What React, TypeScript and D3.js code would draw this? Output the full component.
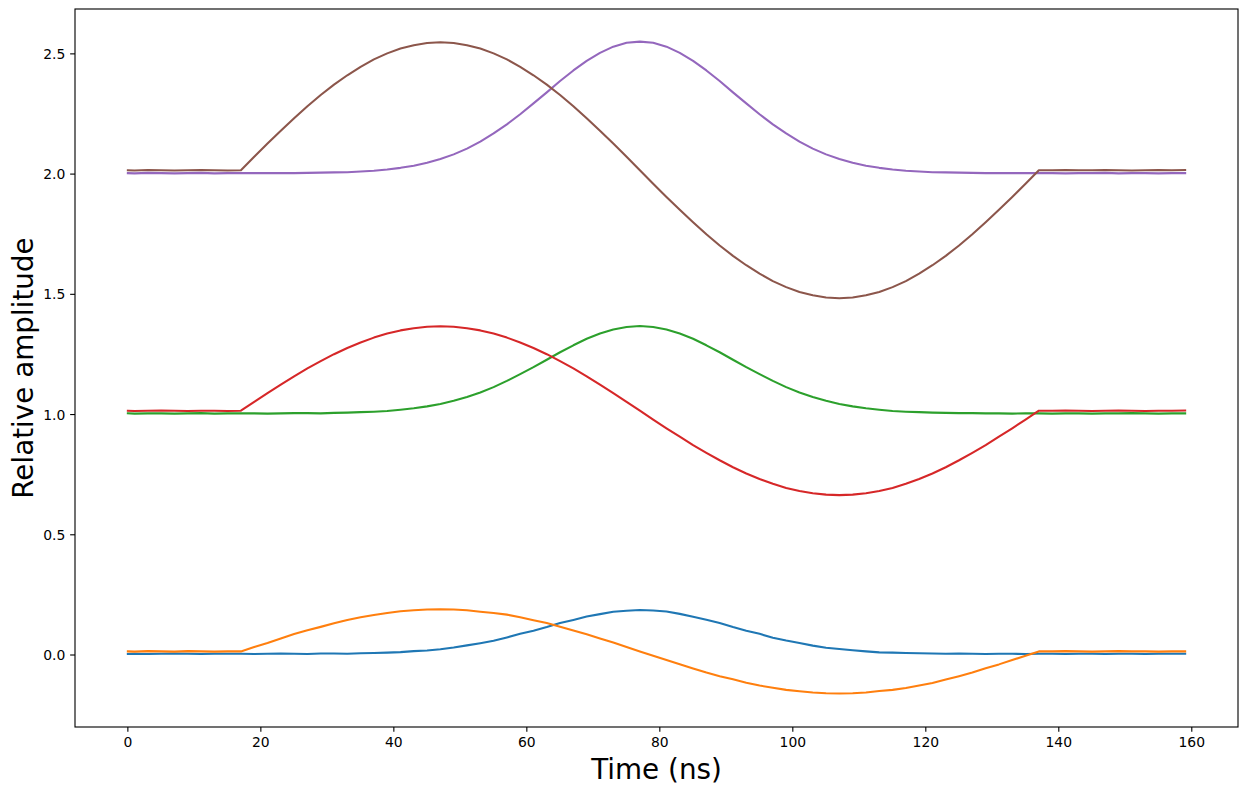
import React from "react";
import * as d3 from "d3";

const times = [0,1,3,5,7,9,11,13,15,17,19,21,23,25,27,29,31,33,35,37,39,41,43,45,47,49,51,53,55,57,59,61,63,65,67,69,71,73,75,77,79,81,83,85,87,89,91,93,95,97,99,101,103,105,107,109,111,113,115,117,119,121,123,125,127,129,131,133,135,137,139,141,143,145,147,149,151,153,155,157,159];

const blue = [0.004,0.005,0.004,0.005,0.006,0.005,0.004,0.005,0.005,
  0.005,0.004,0.005,0.006,0.005,0.004,0.006,0.006,0.005,0.007,0.008,0.010,0.012,0.016,0.019,0.024,0.031,0.040,0.049,0.059,0.073,0.088,0.101,0.116,0.133,0.146,0.160,0.170,0.180,0.184,0.187,
  0.185,0.181,0.171,0.159,0.147,0.133,0.116,0.101,0.088,0.072,0.060,0.050,0.039,0.030,0.025,0.020,0.015,0.011,0.010,0.008,0.007,0.006,0.005,0.006,0.005,0.004,0.005,0.005,0.004,0.005,
  0.005,0.004,0.005,0.005,0.004,0.005,0.005,0.004,0.005,0.005,0.005];

const orange = [0.015,0.014,0.016,0.015,0.014,0.016,0.015,0.014,0.015,
  0.015,0.033,0.050,0.069,0.087,0.103,0.117,0.132,0.146,0.157,0.166,0.175,0.182,0.186,0.189,0.190,0.189,0.186,0.180,0.175,0.168,0.157,0.145,0.133,0.118,0.102,0.086,0.069,0.052,0.033,0.015,
  -0.003,-0.021,-0.038,-0.056,-0.073,-0.088,-0.101,-0.115,-0.127,-0.136,-0.145,-0.151,-0.156,-0.159,-0.160,-0.159,-0.156,-0.150,-0.145,-0.137,-0.127,-0.116,-0.102,-0.088,-0.073,-0.055,-0.039,-0.021,-0.003,0.015,
  0.015,0.016,0.015,0.014,0.015,0.016,0.015,0.015,0.014,0.015,0.015];

const green = [1.005,1.004,1.005,1.005,1.004,1.005,1.006,1.004,1.005,
  1.005,1.005,1.004,1.005,1.006,1.006,1.005,1.007,1.008,1.010,1.012,1.015,1.020,1.026,1.034,1.044,1.057,1.073,1.092,1.114,1.140,1.168,1.197,1.228,1.259,1.288,1.315,1.337,1.354,1.364,1.368,
  1.364,1.354,1.337,1.315,1.288,1.259,1.228,1.197,1.168,1.140,1.114,1.092,1.073,1.057,1.044,1.034,1.026,1.020,1.015,1.012,1.010,1.008,1.007,1.006,1.006,1.005,1.005,1.004,1.005,1.005,
  1.004,1.005,1.005,1.004,1.005,1.005,1.006,1.005,1.004,1.005,1.005];

const red = [1.016,1.015,1.016,1.017,1.016,1.015,1.016,1.016,1.015,
  1.016,1.053,1.089,1.124,1.159,1.192,1.222,1.251,1.277,1.300,1.320,1.337,1.350,1.359,1.365,1.367,1.365,1.359,1.350,1.337,1.320,1.300,1.277,1.251,1.222,1.192,1.159,1.124,1.089,1.053,1.016,
  0.979,0.943,0.908,0.873,0.841,0.810,0.781,0.755,0.732,0.712,0.695,0.682,0.673,0.667,0.665,0.667,0.673,0.682,0.695,0.712,0.732,0.755,0.781,0.810,0.841,0.873,0.908,0.943,0.979,1.016,
  1.016,1.017,1.016,1.015,1.016,1.017,1.016,1.015,1.016,1.016,1.017];

const purple = [2.004,2.003,2.005,2.004,2.003,2.004,2.005,2.003,2.004,
  2.004,2.004,2.004,2.004,2.004,2.005,2.006,2.007,2.008,2.011,2.014,2.019,2.026,2.035,2.047,2.063,2.082,2.106,2.135,2.169,2.207,2.249,2.294,2.340,2.387,2.431,2.471,2.504,2.530,2.546,2.551,
  2.546,2.530,2.504,2.471,2.431,2.387,2.340,2.294,2.249,2.207,2.169,2.135,2.106,2.082,2.063,2.047,2.035,2.026,2.019,2.014,2.011,2.008,2.007,2.006,2.005,2.004,2.004,2.004,2.004,2.004,
  2.004,2.003,2.004,2.004,2.005,2.003,2.004,2.004,2.003,2.004,2.004];

const brown = [2.016,2.015,2.017,2.016,2.015,2.016,2.017,2.016,2.015,
  2.016,2.072,2.127,2.180,2.232,2.282,2.329,2.372,2.411,2.446,2.477,2.502,2.522,2.536,2.545,2.548,2.545,2.536,2.522,2.502,2.477,2.446,2.411,2.372,2.329,2.282,2.232,2.180,2.127,2.072,2.016,
  1.960,1.905,1.852,1.800,1.750,1.703,1.660,1.621,1.586,1.555,1.530,1.510,1.496,1.487,1.484,1.487,1.496,1.510,1.530,1.555,1.586,1.621,1.660,1.703,1.750,1.800,1.852,1.905,1.960,2.016,
  2.016,2.017,2.016,2.016,2.017,2.016,2.015,2.016,2.017,2.016,2.017];

const seriesList = [blue, orange, green, red, purple, brown];
const colors = ["#1f77b4", "#ff7f0e", "#2ca02c", "#d62728", "#9467bd", "#8c564b"];
const xTicks = [0, 20, 40, 60, 80, 100, 120, 140, 160];
const yTicks = [0.0, 0.5, 1.0, 1.5, 2.0, 2.5];

const W = 1247, H = 794;
const L = 75, R = 1238, T = 9, B = 727;

export default function App() {
  const x = d3.scaleLinear().domain([-7.95, 166.95]).range([L, R]);
  const y = d3.scaleLinear().domain([-0.2994, 2.6866]).range([B, T]);
  const line = d3.line<number>().x((_, i) => x(times[i])).y((d) => y(d));
  const font = "DejaVu Sans, sans-serif";
  return (
    <div style={{ position: "absolute", left: 0, top: 0 }}>
      <svg width={W} height={H} style={{ display: "block", background: "#fff" }}>
        <rect x={0} y={0} width={W} height={H} fill="#fff" />
        <g>
          {seriesList.map((s, k) => (
            <path key={k} d={line(s) || ""} fill="none" stroke={colors[k]} strokeWidth={2.08} strokeLinejoin="round" strokeLinecap="square" />
          ))}
        </g>
        <rect x={L} y={T} width={R - L} height={B - T} fill="none" stroke="#000" strokeWidth={1.11} />
        {xTicks.map((t) => (
          <g key={t}>
            <line x1={x(t)} x2={x(t)} y1={B} y2={B + 4.86} stroke="#000" strokeWidth={1.11} />
            <text x={x(t)} y={B + 20.3} textAnchor="middle" fontFamily={font} fontSize={13.9} fill="#000">{t}</text>
          </g>
        ))}
        {yTicks.map((t) => (
          <g key={t}>
            <line x1={L - 4.86} x2={L} y1={y(t)} y2={y(t)} stroke="#000" strokeWidth={1.11} />
            <text x={L - 9.7} y={y(t)} dy="0.36em" textAnchor="end" fontFamily={font} fontSize={13.9} fill="#000">{t.toFixed(1)}</text>
          </g>
        ))}
        <text x={(L + R) / 2} y={779} textAnchor="middle" fontFamily={font} fontSize={27.8} fill="#000">Time (ns)</text>
        <text transform={`translate(33, ${(T + B) / 2}) rotate(-90)`} textAnchor="middle" fontFamily={font} fontSize={27.8} fill="#000">Relative amplitude</text>
      </svg>
    </div>
  );
}
